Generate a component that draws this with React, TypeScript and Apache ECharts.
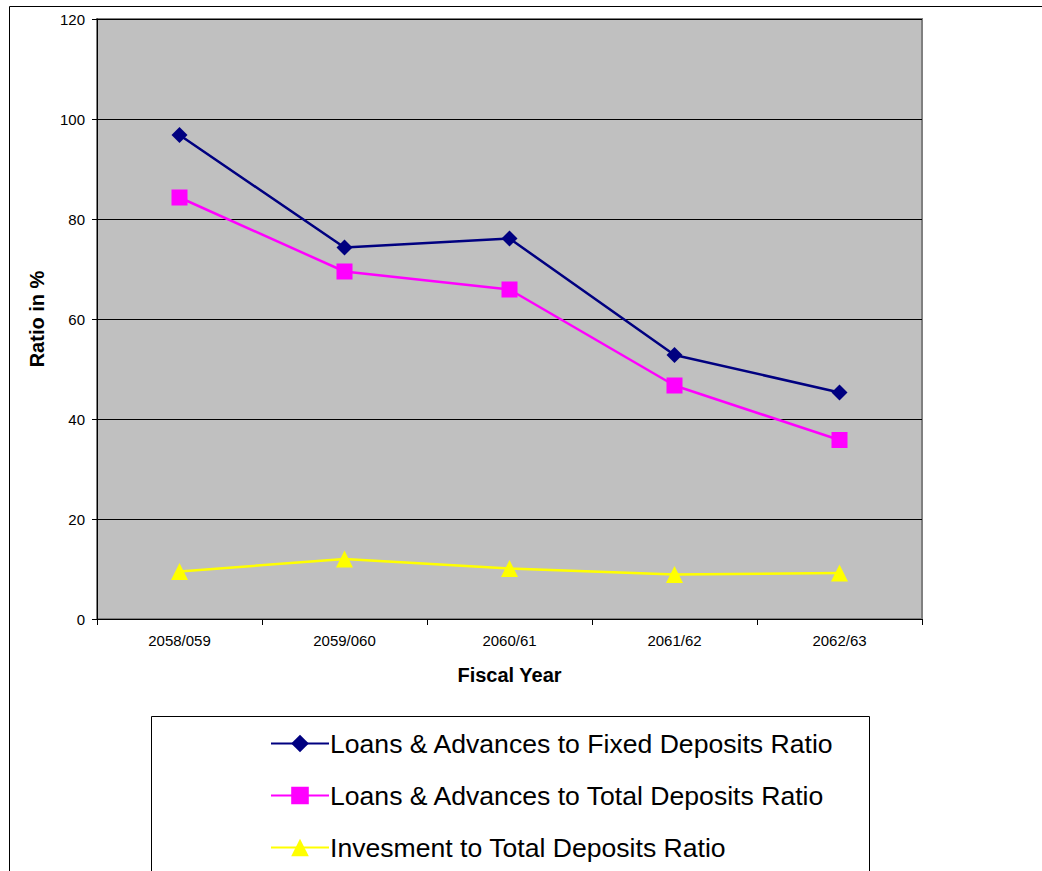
import React, { useEffect, useRef } from "react";
import * as echarts from "echarts";

const categories = ["2058/059", "2059/060", "2060/61", "2061/62", "2062/63"];
const loansToFixed = [96.8, 74.3, 76.1, 52.8, 45.3];
const loansToTotal = [84.3, 69.5, 65.9, 46.7, 35.8];
const investmentToTotal = [9.5, 12.0, 10.1, 8.9, 9.2];
const seriesNames = [
  "Loans & Advances to Fixed Deposits Ratio",
  "Loans & Advances to Total Deposits Ratio",
  "Invesment to Total Deposits Ratio",
];

const FONT = 'Arial, "Liberation Sans", sans-serif';

export default function App() {
  const ref = useRef<HTMLDivElement>(null);
  useEffect(() => {
    document.body.style.margin = "0";
    const chart = echarts.init(ref.current!, null, { renderer: "svg" });
    chart.setOption({
      animation: false,
      backgroundColor: "#ffffff",
      textStyle: { fontFamily: FONT, color: "#000" },
      graphic: [
        {
          type: "rect",
          shape: { x: 9.5, y: 6.5, width: 1200, height: 1000 },
          style: { fill: "none", stroke: "#000", lineWidth: 1 },
          z: 0,
        },
        {
          type: "rect",
          shape: { x: 151.5, y: 716.5, width: 718, height: 400 },
          style: { fill: "#fff", stroke: "#000", lineWidth: 1 },
          z: 0,
        },
      ],
      grid: {
        left: 97,
        top: 19,
        width: 825,
        height: 600,
        show: true,
        backgroundColor: "#C0C0C0",
        borderColor: "#808080",
        borderWidth: 2,
      },
      legend: {
        orient: "vertical",
        left: 265,
        top: 725,
        itemGap: 25,
        itemWidth: 58,
        itemHeight: 22,
        textStyle: { fontSize: 26.6, fontFamily: FONT, color: "#000", padding: [0, 0, 0, -4] },
        data: seriesNames,
      },
      xAxis: {
        type: "category",
        data: categories,
        boundaryGap: true,
        name: "Fiscal Year",
        nameLocation: "middle",
        nameGap: 46,
        nameTextStyle: { fontSize: 20, fontWeight: "bold", color: "#000", fontFamily: FONT },
        axisLine: { lineStyle: { color: "#000", width: 1 } },
        axisTick: { show: true, length: 6, alignWithLabel: false, lineStyle: { color: "#000" } },
        axisLabel: { fontSize: 15, color: "#000", margin: 14, fontFamily: FONT },
        splitLine: { show: false },
      },
      yAxis: {
        type: "value",
        min: 0,
        max: 120,
        interval: 20,
        name: "Ratio in %",
        nameLocation: "middle",
        nameGap: 50,
        nameRotate: 90,
        nameTextStyle: { fontSize: 20, fontWeight: "bold", color: "#000", fontFamily: FONT },
        axisLine: { show: true, lineStyle: { color: "#000", width: 1 } },
        axisTick: { show: true, length: 5, lineStyle: { color: "#000" } },
        axisLabel: { fontSize: 15, color: "#000", margin: 12, fontFamily: FONT },
        splitLine: { show: true, lineStyle: { color: "#000", width: 1 } },
      },
      series: [
        {
          name: seriesNames[0],
          type: "line",
          data: loansToFixed,
          symbol: "diamond",
          symbolSize: 16,
          lineStyle: { color: "#000080", width: 2.5 },
          itemStyle: { color: "#000080" },
        },
        {
          name: seriesNames[1],
          type: "line",
          data: loansToTotal,
          symbol: "rect",
          symbolSize: 16,
          lineStyle: { color: "#FF00FF", width: 2.5 },
          itemStyle: { color: "#FF00FF" },
        },
        {
          name: seriesNames[2],
          type: "line",
          data: investmentToTotal,
          symbol: "triangle",
          symbolSize: 17,
          lineStyle: { color: "#FFFF00", width: 2.5 },
          itemStyle: { color: "#FFFF00" },
        },
      ],
    });
    return () => chart.dispose();
  }, []);
  return <div ref={ref} style={{ width: 1042, height: 871 }} />;
}
